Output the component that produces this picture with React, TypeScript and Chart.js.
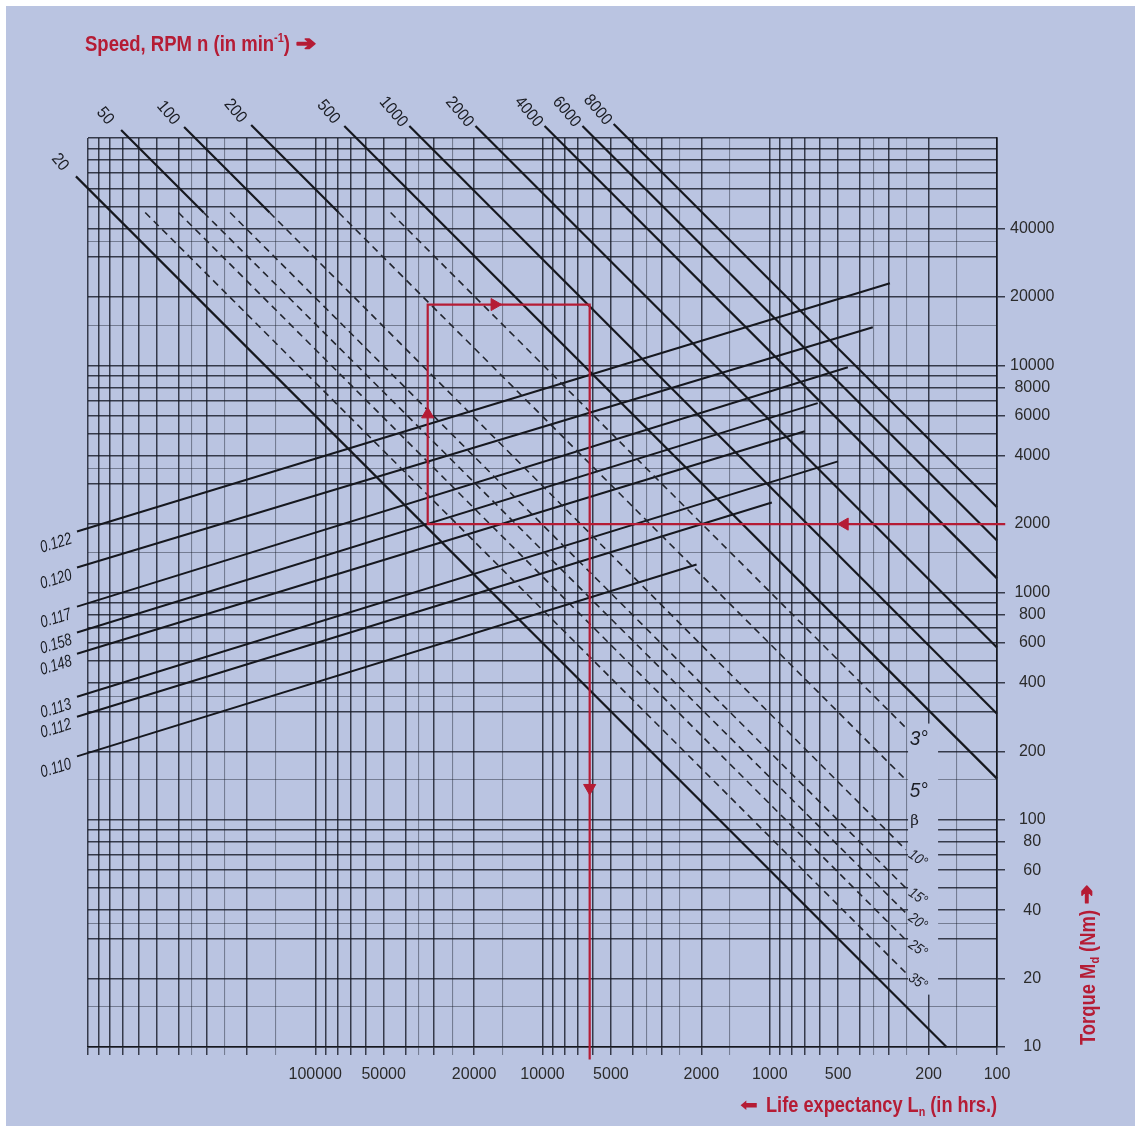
import React, { useEffect, useRef } from 'react';
import { Chart, registerables } from 'chart.js';

Chart.register(...registerables);

// ---------------- data ----------------
const lifeDecades = [100, 1000, 10000, 100000];
const lifeMultiples = [1, 1.5, 2, 2.5, 3, 3.5, 4, 5, 6, 7, 8, 9];
const lifeMin = 100;
const lifeMax = 1000000;
const torqueDecades = [10, 100, 1000, 10000];
const torqueMultiples = [1, 1.5, 2, 3, 3.5, 4, 5, 6, 7, 8, 9];
const torqueMin = 10;
const torqueMax = 100000;

const lifeTickLabels = [100000, 50000, 20000, 10000, 5000, 2000, 1000, 500, 200, 100];
const torqueTickLabels = [40000, 20000, 10000, 8000, 6000, 4000, 2000, 1000, 800, 600, 400, 200, 100, 80, 60, 40, 20, 10];

// speed lines n (min^-1): [life h, torque Nm] at label end and far end
const speedLabels = ['20', '50', '100', '200', '500', '1000', '2000', '4000', '6000', '8000'];
const speedStart = [
  [1130000, 67800], [715000, 108400], [377700, 111800], [191400, 114000], [74500, 113000],
  [38550, 113000], [19720, 113000], [9790, 113000], [6670, 113000], [4864, 115300],
];
const speedEnd = [
  [166.7, 10], [310000, 47000], [158800, 47000], [78900, 47000], [100, 151.7],
  [100, 293], [100, 573], [100, 1154], [100, 1694], [100, 2370],
];

// helix angle lines β (dashed)
const angleLabels = ['3°', '5°', '10°', '15°', '20°', '25°', '35°'];
const angleStart = [
  [46600, 47000], [78900, 47000], [158800, 47000], [237000, 47000], [310000, 47000], [400000, 47000], [560000, 47000],
];
const angleEnd = [
  [252, 254], [252, 150], [252, 73.8], [252, 50.1], [252, 38.9], [252, 29.6], [252, 21.2],
];

// ratio lines (rising)
const ratioLabels = ['0.122', '0.120', '0.117', '0.158', '0.148', '0.113', '0.112', '0.110'];
const ratioStart = [
  [1118000, 1856], [1118000, 1288], [1118000, 867], [1118000, 667], [1118000, 538], [1118000, 348], [1118000, 284], [1118000, 190],
];
const ratioEnd = [
  [296, 22960], [352, 14690], [453, 9800], [615, 6810], [701, 5120], [501, 3776], [979, 2489], [2099, 1327],
];

// worked example (red)
const examplePath = [[92, 2000], [32000, 2000], [32000, 18500], [6200, 18500], [6200, 8.8]];
const exampleArrows = [[468, 2000], [32000, 6080], [16250, 18500], [6200, 138]];
const exampleArrowDirs = [270, 0, 90, 180];

// ---------------- style ----------------
const BG = '#bac4e1';
const RED = '#b51c35';
const INK = '#16181f';
const TICK_FONT = '"Liberation Sans", Arial, sans-serif';

const buildGrid = (decades: number[], mults: number[], max: number) => {
  const out: number[] = [];
  decades.forEach((d) => mults.forEach((m) => out.push(Math.round(m * d * 100) / 100)));
  out.push(max);
  return out;
};
const lifeGrid = buildGrid(lifeDecades, lifeMultiples, lifeMax);
const torqueGrid = buildGrid(torqueDecades, torqueMultiples, torqueMax);

const mantissa = (v: number) => {
  const e = Math.floor(Math.log10(v) + 1e-9);
  return Math.round((v / Math.pow(10, e)) * 10) / 10;
};
const isHalf = (v: number) => [1.5, 2.5, 3.5].includes(mantissa(v));
const gridColor = (c: any) => {
  const v = c.tick ? c.tick.value : null;
  if (v == null) return 'rgba(20,24,36,0.8)';
  return isHalf(v) ? 'rgba(20,24,36,0.42)' : 'rgba(20,24,36,0.8)';
};
const gridWidth = (c: any) => {
  const v = c.tick ? c.tick.value : null;
  if (v == null) return 1.4;
  return isHalf(v) ? 1.1 : 1.5;
};
const inList = (list: number[], v: number) => list.some((l) => Math.abs(l - v) < 1e-6);

const seg = (a: number[], b: number[]) => [
  { x: a[0], y: a[1] },
  { x: b[0], y: b[1] },
];

function drawRotated(ctx: CanvasRenderingContext2D, t: string, x: number, y: number, deg: number, font: string, sx: number) {
  ctx.save();
  ctx.translate(x, y);
  ctx.rotate((deg * Math.PI) / 180);
  ctx.scale(sx, 1);
  ctx.font = font;
  ctx.fillText(t, 0, 0);
  ctx.restore();
}

type Run = { t: string; size: number; dy?: number; fam?: string; stroke?: number };
function drawRuns(ctx: CanvasRenderingContext2D, runs: Run[], x: number, y: number, targetW: number, rot = 0) {
  ctx.save();
  ctx.translate(x, y);
  if (rot) ctx.rotate(rot);
  ctx.textAlign = 'left';
  ctx.textBaseline = 'alphabetic';
  let total = 0;
  const fonts = runs.map((r) => `bold ${r.size}px ${r.fam || '"Liberation Sans", Arial, sans-serif'}`);
  const widths = runs.map((r, i) => {
    ctx.font = fonts[i];
    const w = ctx.measureText(r.t).width;
    total += w;
    return w;
  });
  ctx.scale(targetW / total, 1);
  let cx = 0;
  runs.forEach((r, i) => {
    ctx.font = fonts[i];
    ctx.fillText(r.t, cx, r.dy || 0);
    if (r.stroke) {
      ctx.strokeStyle = ctx.fillStyle as string;
      ctx.lineWidth = r.stroke;
      ctx.lineJoin = 'round';
      ctx.strokeText(r.t, cx, r.dy || 0);
    }
    cx += widths[i];
  });
  ctx.restore();
}

const overlayPlugin = {
  id: 'overlay',
  afterDatasetsDraw(chart: any) {
    const { ctx } = chart;
    const xs = chart.scales.x;
    const ys = chart.scales.y;
    const px = (v: number) => xs.getPixelForValue(v);
    const py = (v: number) => ys.getPixelForValue(v);
    ctx.save();
    // clear the label column for the β angles
    ctx.fillStyle = BG;
    const colL = px(250) + 1.5;
    ctx.fillRect(colL, py(265), 30, py(17) - py(265));

    ctx.fillStyle = '#1b1d24';
    ctx.textAlign = 'center';
    ctx.textBaseline = 'middle';
    speedLabels.forEach((t, i) => {
      const [L, M] = speedStart[i];
      drawRotated(ctx, t, px(L) - 16, py(M) - 14, 50, `17px ${TICK_FONT}`, 0.9);
    });
    ratioLabels.forEach((t, i) => {
      const [L, M] = ratioStart[i];
      drawRotated(ctx, t, px(L) - 21, py(M) + 12, -17, `italic 17px ${TICK_FONT}`, 0.76);
    });
    angleLabels.forEach((t, i) => {
      const [L, M] = angleEnd[i];
      const big = i < 2;
      if (big) drawRotated(ctx, t, px(L) + 13, py(M) + 12, 0, `italic 20px ${TICK_FONT}`, 0.95);
      else drawRotated(ctx, t, px(L) + 12, py(M) + 9, 35, `italic 15px ${TICK_FONT}`, 0.85);
    });
    drawRotated(ctx, 'β', px(250) + 8, py(100) + 1, 0, '15px "DejaVu Serif", serif', 1);
    ctx.restore();
  },
  afterDraw(chart: any) {
    const { ctx } = chart;
    ctx.save();
    ctx.fillStyle = RED;
    // top title
    drawRuns(ctx, [
      { t: 'Speed, RPM n (in min', size: 22 },
      { t: '-1', size: 13, dy: -9 },
      { t: ')', size: 22 },
    ], 79, 45, 205);
    drawRuns(ctx, [{ t: '➔', size: 20, fam: '"DejaVu Sans", sans-serif', stroke: 1.6 }], 290, 44, 20);
    // bottom title
    drawRuns(ctx, [{ t: '⬅', size: 18, fam: '"DejaVu Sans", sans-serif' }], 734, 1105, 18);
    drawRuns(ctx, [
      { t: 'Life expectancy L', size: 22 },
      { t: 'n', size: 13, dy: 4 },
      { t: ' (in hrs.)', size: 22 },
    ], 760, 1106, 231);
    // right title (vertical)
    drawRuns(ctx, [
      { t: 'Torque M', size: 22 },
      { t: 'd', size: 13, dy: 4 },
      { t: ' (Nm)', size: 22 },
    ], 1089, 1039, 135, -Math.PI / 2);
    ctx.save();
    ctx.translate(1088, 1039);
    ctx.rotate(-Math.PI / 2);
    drawRuns(ctx, [{ t: '➔', size: 20, fam: '"DejaVu Sans", sans-serif', stroke: 1.6 }], 141, -1, 19);
    ctx.restore();
    ctx.restore();
  },
};

export default function App() {
  const ref = useRef<HTMLCanvasElement | null>(null);

  useEffect(() => {
    document.body.style.margin = '0';
    const canvas = ref.current;
    if (!canvas) return;

    const datasets: any[] = [];
    datasets.push({
      label: 'arrows',
      data: exampleArrows.map((p) => ({ x: p[0], y: p[1] })),
      showLine: false,
      pointStyle: 'triangle',
      pointRotation: exampleArrowDirs,
      pointRadius: 7,
      backgroundColor: RED,
      borderColor: RED,
      borderWidth: 1,
      clip: false,
    });
    datasets.push({
      label: 'example',
      data: examplePath.map((p) => ({ x: p[0], y: p[1] })),
      showLine: true,
      borderColor: RED,
      borderWidth: 2.2,
      pointRadius: 0,
      clip: false,
    });
    speedLabels.forEach((lab, i) => {
      datasets.push({
        label: 'n=' + lab,
        data: seg(speedStart[i], speedEnd[i]),
        showLine: true,
        borderColor: INK,
        borderWidth: 2.2,
        pointRadius: 0,
        clip: false,
      });
    });
    angleLabels.forEach((lab, i) => {
      datasets.push({
        label: 'β=' + lab,
        data: seg(angleStart[i], angleEnd[i]),
        showLine: true,
        borderColor: '#22252e',
        borderWidth: 1.6,
        borderDash: [7, 5],
        pointRadius: 0,
        clip: false,
      });
    });
    ratioLabels.forEach((lab, i) => {
      datasets.push({
        label: 'r=' + lab,
        data: seg(ratioStart[i], ratioEnd[i]),
        showLine: true,
        borderColor: INK,
        borderWidth: 2,
        pointRadius: 0,
        clip: false,
      });
    });

    const chart = new Chart(canvas, {
      type: 'scatter',
      data: { datasets },
      options: {
        animation: false,
        responsive: false,
        maintainAspectRatio: false,
        events: [],
        layout: { padding: { left: 82, top: 132, right: 0, bottom: 0 } },
        plugins: { legend: { display: false }, tooltip: { enabled: false } },
        elements: { line: { tension: 0 } },
        scales: {
          x: {
            type: 'logarithmic',
            min: lifeMin,
            max: lifeMax,
            reverse: true,
            position: 'bottom',
            afterBuildTicks: (s: any) => {
              s.ticks = lifeGrid.map((v) => ({ value: v }));
            },
            afterFit: (s: any) => {
              s.height = 79;
            },
            grid: {
              color: gridColor,
              lineWidth: gridWidth,
              drawTicks: true,
              tickLength: 8,
              tickColor: gridColor,
            },
            border: { display: true, color: INK, width: 1.6 },
            ticks: {
              autoSkip: false,
              maxRotation: 0,
              minRotation: 0,
              padding: 10,
              color: '#2b2b2b',
              font: { family: TICK_FONT, size: 16 },
              callback: (v: any) => (inList(lifeTickLabels, Number(v)) ? String(v) : ''),
            },
          },
          y: {
            type: 'logarithmic',
            min: torqueMin,
            max: torqueMax,
            position: 'right',
            afterBuildTicks: (s: any) => {
              s.ticks = torqueGrid.map((v) => ({ value: v }));
            },
            afterFit: (s: any) => {
              s.width = 138;
            },
            grid: {
              color: gridColor,
              lineWidth: gridWidth,
              drawTicks: true,
              tickLength: 8,
              tickColor: (c: any) => (c.tick && inList(torqueTickLabels, c.tick.value) ? 'rgba(20,24,36,0.8)' : 'rgba(0,0,0,0)'),
            },
            border: { display: true, color: INK, width: 1.6 },
            ticks: {
              autoSkip: false,
              padding: 5,
              crossAlign: 'center',
              color: '#2b2b2b',
              font: { family: TICK_FONT, size: 16 },
              callback: (v: any) => (inList(torqueTickLabels, Number(v)) ? String(v) : ''),
            },
          },
        },
      } as any,
      plugins: [overlayPlugin as any],
    });
    return () => chart.destroy();
  }, []);

  return (
    <div style={{ padding: '6px 0 0 6px', background: '#ffffff' }}>
      <canvas
        ref={ref}
        width={1129}
        height={1120}
        style={{ display: 'block', width: 1129, height: 1120, background: BG }}
      />
    </div>
  );
}
